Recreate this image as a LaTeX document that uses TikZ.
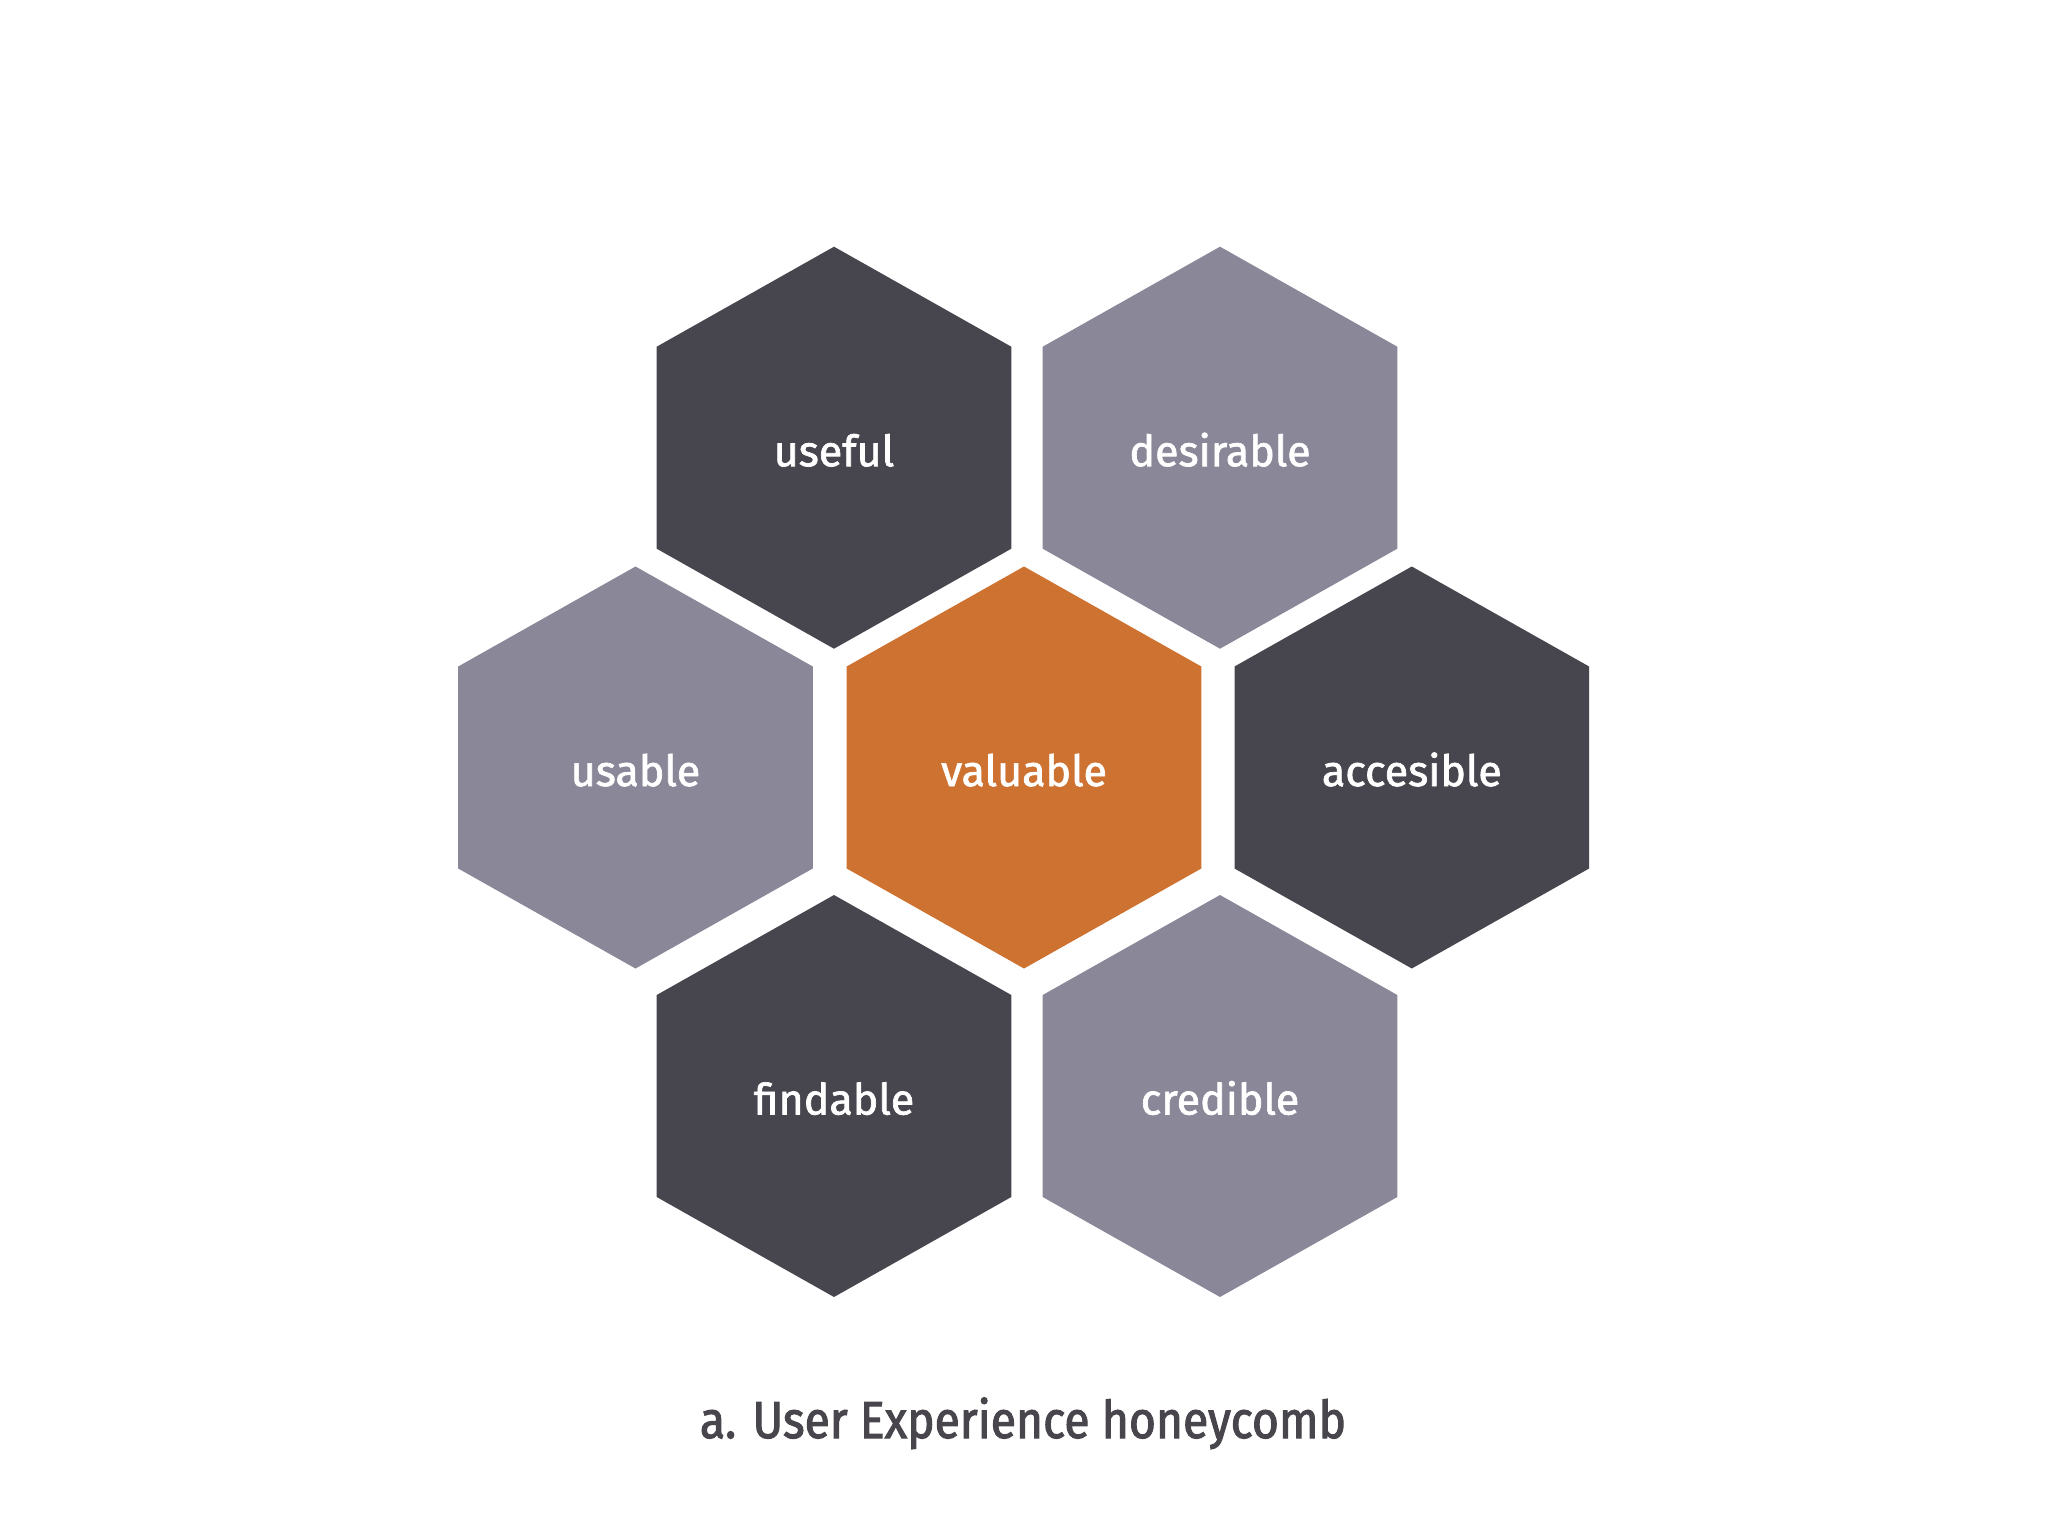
\documentclass[tikz,border=0pt]{standalone}
\usepackage{fontspec}
\setmainfont{Fira Sans}
\newfontfamily\labelfont{Fira Sans}[FakeBold=1.6]
\newfontfamily\captionfont{Fira Sans}[FakeBold=2, FakeStretch=0.89]
\definecolor{hexdark}{RGB}{71,69,78}
\definecolor{hexlight}{RGB}{138,135,153}
\definecolor{hexorange}{RGB}{206,114,50}
\definecolor{captiongray}{RGB}{72,70,76}
\tikzset{
  hexlabel/.style={text=white, anchor=base, inner sep=0pt, font=\labelfont\fontsize{43}{50}\selectfont},
  captionstyle/.style={text=captiongray, anchor=base, inner sep=0pt, font=\captionfont\fontsize{52}{60}\selectfont}
}
\newcommand\honeyhex[5]{%
  \fill[#4, shift={(#2,#3)}] (0,-201) -- (177.3,-101) -- (177.3,101) -- (0,201) -- (-177.3,101) -- (-177.3,-101) -- cycle;
  \node[hexlabel] (#1) at (#2,#3+18.5) {#5};
}
\begin{document}
\begin{tikzpicture}[x=1pt,y=-1pt]
\useasboundingbox (0,0) rectangle (2048,1536);
\fill[white] (0,0) rectangle (2048,1536);
\honeyhex{useful}{834}{447.7}{hexdark}{useful}
\honeyhex{desirable}{1220}{447.7}{hexlight}{desirable}
\honeyhex{usable}{635.5}{767.5}{hexlight}{usable}
\honeyhex{valuable}{1024}{767.5}{hexorange}{valuable}
\honeyhex{accesible}{1411.8}{767.5}{hexdark}{accesible}
\honeyhex{findable}{834}{1096}{hexdark}{findable}
\honeyhex{credible}{1220}{1096}{hexlight}{credible}
\node[captionstyle] (caption) at (1023,1438) {a. User Experience honeycomb};
\end{tikzpicture}
\end{document}
